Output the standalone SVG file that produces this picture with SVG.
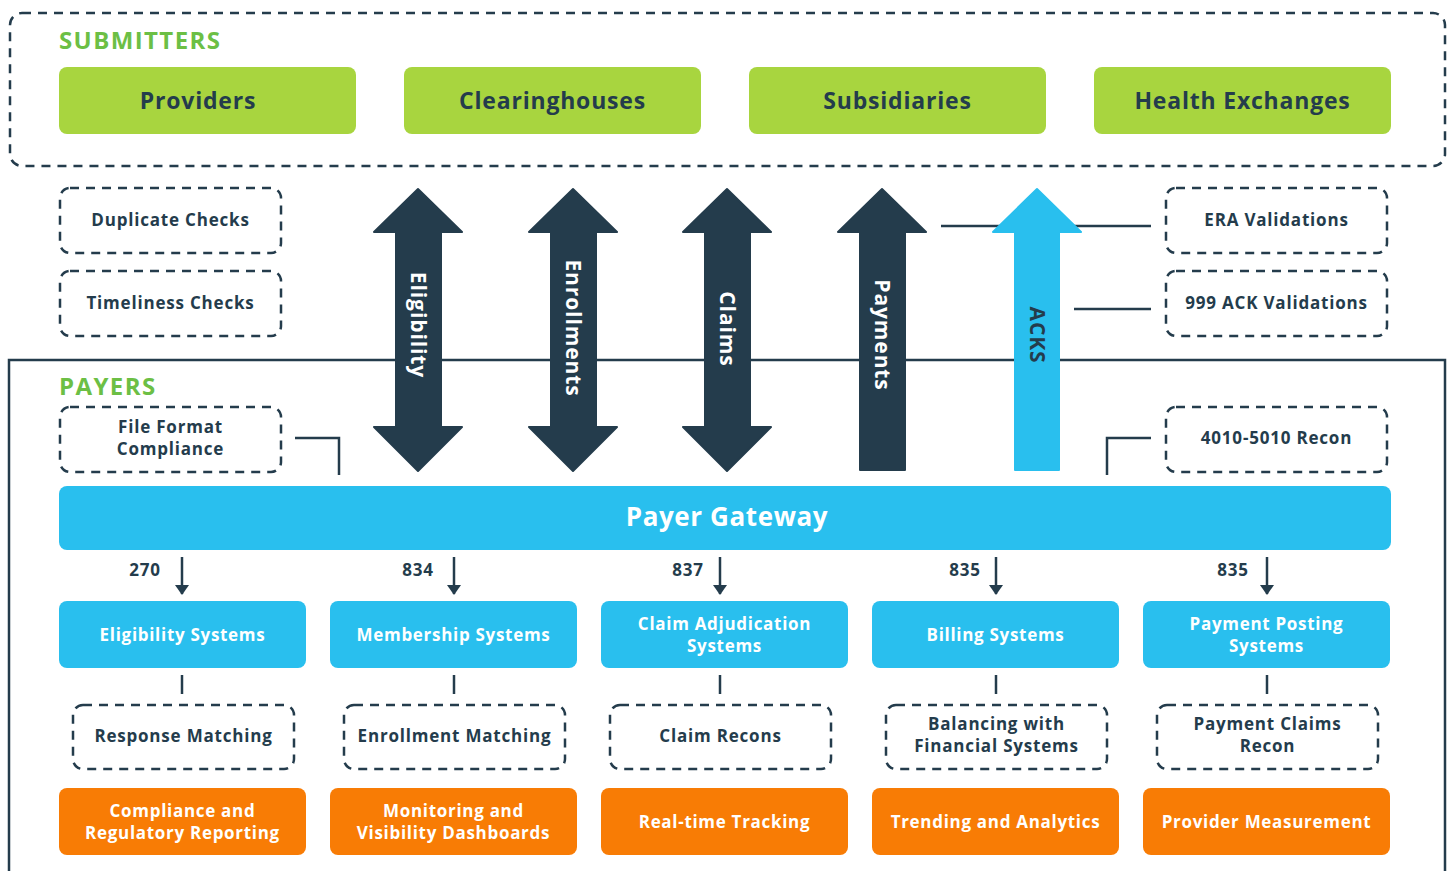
<svg xmlns="http://www.w3.org/2000/svg" width="1450" height="871" viewBox="0 0 1450 871">
<defs>
<style>
text{font-family:"Open Sans","Liberation Sans",sans-serif;font-weight:700;}
.dash{fill:none;stroke:#243c4c;stroke-width:2.5;stroke-dasharray:9 7;}
.green{fill:#a8d53f;}
.blue{fill:#29bfee;}
.orange{fill:#f87c05;}
.navy{fill:#243c4c;}
.ln{fill:none;stroke:#243c4c;stroke-width:2.5;}
.tg{fill:#243c4c;font-size:23px;text-anchor:middle;letter-spacing:0.8px;}
.td{fill:#243c4c;font-size:17px;text-anchor:middle;letter-spacing:0.8px;}
.tw{fill:#ffffff;font-size:17px;text-anchor:middle;letter-spacing:0.7px;}
.hdr{fill:#6cbf45;font-size:24px;letter-spacing:1.4px;}
.arrw{fill:#ffffff;font-size:21px;text-anchor:middle;letter-spacing:0.9px;}
</style>
<marker id="ah" markerUnits="userSpaceOnUse" markerWidth="10" markerHeight="14" refX="9" refY="7" orient="auto" viewBox="0 0 10 14">
<path d="M0,0 L10,7 L0,14 Z" fill="#243c4c"/>
</marker>
</defs>

<!-- containers -->
<g id="submitters">
<rect class="dash" x="10" y="13" width="1435" height="153" rx="12"/>
<text class="hdr" x="59" y="49">SUBMITTERS</text>
</g>
<g id="payers">
<path class="ln" d="M9,871 V360 H1445 V871"/>
<text class="hdr" x="59" y="395">PAYERS</text>
</g>

<!-- connectors -->
<g id="connectors">
<line class="ln" x1="941" y1="226" x2="1151" y2="226"/>
<line class="ln" x1="1074" y1="309" x2="1151" y2="309"/>
<path class="ln" d="M295,438 H339 V475"/>
<path class="ln" d="M1151,438 H1107 V475"/>
<line class="ln" x1="182" y1="557" x2="182" y2="594" marker-end="url(#ah)"/>
<line class="ln" x1="454" y1="557" x2="454" y2="594" marker-end="url(#ah)"/>
<line class="ln" x1="720" y1="557" x2="720" y2="594" marker-end="url(#ah)"/>
<line class="ln" x1="996" y1="557" x2="996" y2="594" marker-end="url(#ah)"/>
<line class="ln" x1="1267" y1="557" x2="1267" y2="594" marker-end="url(#ah)"/>
<line class="ln" x1="182" y1="675" x2="182" y2="694"/>
<line class="ln" x1="454" y1="675" x2="454" y2="694"/>
<line class="ln" x1="720" y1="675" x2="720" y2="694"/>
<line class="ln" x1="996" y1="675" x2="996" y2="694"/>
<line class="ln" x1="1267" y1="675" x2="1267" y2="694"/>
<text class="td" x="145" y="576">270</text>
<text class="td" x="418" y="576">834</text>
<text class="td" x="688" y="576">837</text>
<text class="td" x="965" y="576">835</text>
<text class="td" x="1233" y="576">835</text>
</g>

<!-- big flow arrows -->
<g id="arrow-eligibility">
<path class="navy" stroke="#243c4c" stroke-width="2" stroke-linejoin="round" d="M418,189 L462,232 L441,232 L441,427 L462,427 L418,471 L374,427 L396,427 L396,232 L374,232 Z"/>
<text class="arrw" transform="translate(418,325) rotate(90)" dy="7">Eligibility</text>
</g>
<g id="arrow-enrollments">
<path class="navy" stroke="#243c4c" stroke-width="2" stroke-linejoin="round" d="M573,189 L617,232 L596,232 L596,427 L617,427 L573,471 L529,427 L551,427 L551,232 L529,232 Z"/>
<text class="arrw" transform="translate(573,328) rotate(90)" dy="7">Enrollments</text>
</g>
<g id="arrow-claims">
<path class="navy" stroke="#243c4c" stroke-width="2" stroke-linejoin="round" d="M727,189 L771,232 L750,232 L750,427 L771,427 L727,471 L683,427 L705,427 L705,232 L683,232 Z"/>
<text class="arrw" transform="translate(727,329) rotate(90)" dy="7">Claims</text>
</g>
<g id="arrow-payments">
<path class="navy" stroke="#243c4c" stroke-width="2" stroke-linejoin="round" d="M882,189 L926,232 L905,232 L905,470 L860,470 L860,232 L838,232 Z"/>
<text class="arrw" transform="translate(882,335) rotate(90)" dy="7">Payments</text>
</g>
<g id="arrow-acks">
<path class="blue" stroke="#29bfee" stroke-width="2" stroke-linejoin="round" d="M1037,189 L1081,232 L1059,232 L1059,470 L1015,470 L1015,232 L993,232 Z"/>
<text class="arrw" style="fill:#243c4c" transform="translate(1037,335) rotate(90)" dy="7">ACKS</text>
</g>

<!-- submitters -->
<g id="providers"><rect class="green" x="59" y="67" width="297" height="67" rx="8"/><text class="tg" x="198" y="109">Providers</text></g>
<g id="clearinghouses"><rect class="green" x="404" y="67" width="297" height="67" rx="8"/><text class="tg" x="552.5" y="109">Clearinghouses</text></g>
<g id="subsidiaries"><rect class="green" x="749" y="67" width="297" height="67" rx="8"/><text class="tg" x="897.5" y="109">Subsidiaries</text></g>
<g id="health-exchanges"><rect class="green" x="1094" y="67" width="297" height="67" rx="8"/><text class="tg" x="1242.5" y="109">Health Exchanges</text></g>

<!-- checks -->
<g id="duplicate-checks"><rect class="dash" x="60" y="188" width="221" height="65" rx="10"/><text class="td" x="170.5" y="226">Duplicate Checks</text></g>
<g id="timeliness-checks"><rect class="dash" x="60" y="271" width="221" height="65" rx="10"/><text class="td" x="170.5" y="309">Timeliness Checks</text></g>
<g id="file-format"><rect class="dash" x="60" y="407" width="221" height="65" rx="10"/><text class="td" x="170.5" y="433">File Format</text><text class="td" x="170.5" y="455">Compliance</text></g>
<g id="era-validations"><rect class="dash" x="1166" y="188" width="221" height="65" rx="10"/><text class="td" x="1276.5" y="226">ERA Validations</text></g>
<g id="ack-validations"><rect class="dash" x="1166" y="271" width="221" height="65" rx="10"/><text class="td" x="1276.5" y="309">999 ACK Validations</text></g>
<g id="recon-4010"><rect class="dash" x="1166" y="407" width="221" height="65" rx="10"/><text class="td" x="1276.5" y="444">4010-5010 Recon</text></g>

<!-- gateway -->
<g id="payer-gateway"><rect class="blue" x="59" y="486" width="1332" height="64" rx="8"/><text x="727" y="526" style="fill:#fff;font-size:26px;text-anchor:middle;letter-spacing:0.6px">Payer Gateway</text></g>

<!-- systems -->
<g id="eligibility-systems"><rect class="blue" x="59" y="601" width="247" height="67" rx="8"/><text class="tw" x="182.5" y="641">Eligibility Systems</text></g>
<g id="membership-systems"><rect class="blue" x="330" y="601" width="247" height="67" rx="8"/><text class="tw" x="453.5" y="641">Membership Systems</text></g>
<g id="claim-adjudication"><rect class="blue" x="601" y="601" width="247" height="67" rx="8"/><text class="tw" x="724.5" y="630">Claim Adjudication</text><text class="tw" x="724.5" y="652">Systems</text></g>
<g id="billing-systems"><rect class="blue" x="872" y="601" width="247" height="67" rx="8"/><text class="tw" x="995.5" y="641">Billing Systems</text></g>
<g id="payment-posting"><rect class="blue" x="1143" y="601" width="247" height="67" rx="8"/><text class="tw" x="1266.5" y="630">Payment Posting</text><text class="tw" x="1266.5" y="652">Systems</text></g>

<!-- matching -->
<g id="response-matching"><rect class="dash" x="73" y="705" width="221" height="64" rx="10"/><text class="td" x="183.5" y="742">Response Matching</text></g>
<g id="enrollment-matching"><rect class="dash" x="344" y="705" width="221" height="64" rx="10"/><text class="td" x="454.5" y="742">Enrollment Matching</text></g>
<g id="claim-recons"><rect class="dash" x="610" y="705" width="221" height="64" rx="10"/><text class="td" x="720.5" y="742">Claim Recons</text></g>
<g id="balancing"><rect class="dash" x="886" y="705" width="221" height="64" rx="10"/><text class="td" x="996.5" y="730">Balancing with</text><text class="td" x="996.5" y="752">Financial Systems</text></g>
<g id="payment-claims-recon"><rect class="dash" x="1157" y="705" width="221" height="64" rx="10"/><text class="td" x="1267.5" y="730">Payment Claims</text><text class="td" x="1267.5" y="752">Recon</text></g>

<!-- outcomes -->
<g id="compliance-reporting"><rect class="orange" x="59" y="788" width="247" height="67" rx="8"/><text class="tw" x="182.5" y="817">Compliance and</text><text class="tw" x="182.5" y="839">Regulatory Reporting</text></g>
<g id="monitoring-dashboards"><rect class="orange" x="330" y="788" width="247" height="67" rx="8"/><text class="tw" x="453.5" y="817">Monitoring and</text><text class="tw" x="453.5" y="839">Visibility Dashboards</text></g>
<g id="realtime-tracking"><rect class="orange" x="601" y="788" width="247" height="67" rx="8"/><text class="tw" x="724.5" y="828">Real-time Tracking</text></g>
<g id="trending-analytics"><rect class="orange" x="872" y="788" width="247" height="67" rx="8"/><text class="tw" x="995.5" y="828">Trending and Analytics</text></g>
<g id="provider-measurement"><rect class="orange" x="1143" y="788" width="247" height="67" rx="8"/><text class="tw" x="1266.5" y="828">Provider Measurement</text></g>
</svg>
